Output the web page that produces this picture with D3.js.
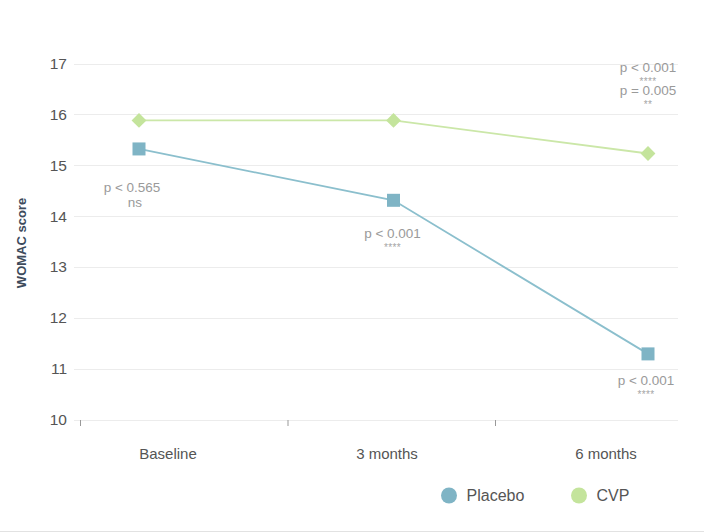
<!DOCTYPE html>
<html>
<head>
<meta charset="utf-8">
<script src="https://cdn.jsdelivr.net/npm/d3@7"></script>
<style>
  html, body { margin: 0; padding: 0; background: #fff; }
  svg { display: block; font-family: "Liberation Sans", Arial, Helvetica, sans-serif; }
</style>
</head>
<body>
<svg id="chart" width="704" height="532"></svg>
<script>
// WOMAC score over time, placebo vs CVP
const categories = ["Baseline", "3 months", "6 months"];
const placeboValues = [15.32, 14.31, 11.29];
const cvpValues = [15.88, 15.88, 15.23];
const yTicks = [10, 11, 12, 13, 14, 15, 16, 17];
const seriesNames = ["Placebo", "CVP"];

// significance notes: below the placebo points, stacked above the last CVP point
const placeboNotes = [["p < 0.565", "ns"], ["p < 0.001", "****"], ["p < 0.001", "****"]];
const cvpNotes = [[], [], ["p < 0.001", "****", "p = 0.005", "**"]];

const colors = { Placebo: "#7fb4c5", CVP: "#c4e49c" };
const lineColors = { Placebo: "#8bbfcd", CVP: "#cbe7a8" };

const svg = d3.select("#chart");

const y = d3.scaleLinear().domain([10, 17]).range([419.5, 63.5]);
const xPts = d3.scalePoint().domain(categories).range([139, 648]);
const xLab = d3.scalePoint().domain(categories).range([168, 606]);
const xTick = d3.scaleLinear().domain([0, categories.length - 1]).range([80.5, 495.5]);

// bottom frame line
svg.append("line")
  .attr("x1", 0).attr("x2", 704).attr("y1", 531.5).attr("y2", 531.5)
  .attr("stroke", "#e2e2e2").attr("stroke-width", 1);

// horizontal grid
svg.append("g").selectAll("line").data(yTicks).join("line")
  .attr("x1", 74).attr("x2", 678)
  .attr("y1", d => Math.round(y(d)) + 0.5).attr("y2", d => Math.round(y(d)) + 0.5)
  .attr("stroke", "#ececec").attr("stroke-width", 1.2);

// y tick labels
svg.append("g").selectAll("text").data(yTicks).join("text")
  .attr("x", 67).attr("y", d => y(d))
  .attr("text-anchor", "end").attr("dominant-baseline", "central")
  .attr("font-size", 15.5).attr("fill", "#555")
  .text(d => d);

// y axis title
svg.append("text")
  .attr("transform", "translate(21,243) rotate(-90)")
  .attr("text-anchor", "middle").attr("dominant-baseline", "central")
  .attr("font-size", 13).attr("font-weight", "bold").attr("fill", "#3d4b5c")
  .text("WOMAC score");

// x tick marks
svg.append("g").selectAll("line").data(categories).join("line")
  .attr("x1", (d, i) => xTick(i)).attr("x2", (d, i) => xTick(i))
  .attr("y1", 420).attr("y2", 426)
  .attr("stroke", "#999").attr("stroke-width", 1);

// x labels
svg.append("g").selectAll("text").data(categories).join("text")
  .attr("x", d => xLab(d)).attr("y", 453.5)
  .attr("text-anchor", "middle").attr("dominant-baseline", "central")
  .attr("font-size", 15).attr("fill", "#555")
  .text(d => d);

const line = d3.line().x((d, i) => xPts(categories[i])).y(d => y(d));

// CVP series
svg.append("path").datum(cvpValues)
  .attr("d", line).attr("fill", "none")
  .attr("stroke", lineColors.CVP).attr("stroke-width", 1.8);
svg.append("g").selectAll("path").data(cvpValues).join("path")
  .attr("d", d3.symbol(d3.symbolDiamond2, 140)())
  .attr("transform", (d, i) => `translate(${xPts(categories[i])},${y(d)})`)
  .attr("fill", colors.CVP);

// Placebo series
svg.append("path").datum(placeboValues)
  .attr("d", line).attr("fill", "none")
  .attr("stroke", lineColors.Placebo).attr("stroke-width", 1.8);
svg.append("g").selectAll("rect").data(placeboValues).join("rect")
  .attr("x", (d, i) => xPts(categories[i]) - 6.5)
  .attr("y", d => y(d) - 6.5)
  .attr("width", 13).attr("height", 13)
  .attr("fill", colors.Placebo);

// significance notes; each p-value line is followed by its marker line
// (asterisks sit on their own baseline so the glyphs land just under it)
function drawNote(lines, cx, top) {
  const g = svg.append("g").attr("fill", "#9a9a9a").attr("text-anchor", "middle");
  let pY = top;
  lines.forEach((t, k) => {
    if (k % 2 === 0) {
      g.append("text").attr("x", cx).attr("y", pY).attr("font-size", 13.5)
        .attr("dominant-baseline", "central").text(t);
    } else if (/^\*+$/.test(t)) {
      g.append("text").attr("x", cx).attr("y", pY + 17.5).attr("font-size", 10)
        .attr("letter-spacing", 0.3).attr("fill", "#a5a5a5").text(t);
      pY += 22.6;
    } else {
      g.append("text").attr("x", cx + 3).attr("y", pY + 14.7).attr("font-size", 13.5)
        .attr("dominant-baseline", "central").text(t);
      pY += 29;
    }
  });
}
const placeboDx = [-7, -1, -2];
const placeboDy = [39, 33, 27];
placeboNotes.forEach((lines, i) => {
  if (!lines.length) return;
  drawNote(lines, xPts(categories[i]) + placeboDx[i], y(placeboValues[i]) + placeboDy[i]);
});
cvpNotes.forEach((lines, i) => {
  if (!lines.length) return;
  drawNote(lines, xPts(categories[i]), y(cvpValues[i]) - 86);
});

// legend
const legendX = [449, 579];
const lg = svg.append("g").selectAll("g").data(seriesNames).join("g")
  .attr("transform", (d, i) => `translate(${legendX[i]},495.5)`);
lg.append("circle").attr("r", 8).attr("fill", d => colors[d]);
lg.append("text").attr("x", 17.5).attr("dominant-baseline", "central")
  .attr("font-size", 16).attr("fill", "#555").text(d => d);
</script>
</body>
</html>
